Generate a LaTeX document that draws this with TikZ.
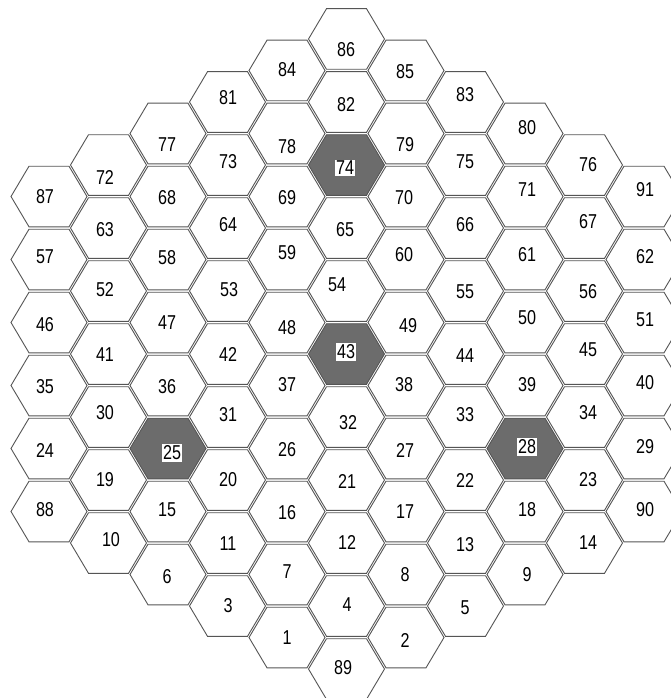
\documentclass[tikz,border=0pt]{standalone}
\usepackage{fontspec}
\usepackage{graphicx}
\setmainfont{Liberation Sans}
\definecolor{hexline}{HTML}{555555}
\definecolor{hexfill}{HTML}{6C6C6C}
\tikzset{
  hexcell/.style={draw=hexline, line width=0.9pt, fill=white},
  hexdark/.style={draw=hexline, line width=0.9pt, fill=hexfill},
  lbl/.style={font=\fontsize{17}{20}\selectfont, inner sep=1pt, text=black},
  lblbox/.style={lbl, fill=white, inner sep=1.5pt},
}
% #1 style of hexagon, #2 label, #3 column, #4 half-row index, #5,#6 label position, #7 label style
\newcommand\hexat[7]{%
  \pgfmathsetmacro\cx{346.5+(#3-6)*59.5}%
  \pgfmathsetmacro\cy{39+#4*31.5}%
  \draw[#1] (\cx-38,\cy) -- (\cx-20,\cy-30.3) -- (\cx+20,\cy-30.3) -- (\cx+38,\cy)
     -- (\cx+20,\cy+30.3) -- (\cx-20,\cy+30.3) -- cycle;
  \node[#7] (n#2) at (#5,#6) {\scalebox{0.95}[1.18]{#2}};
}
\newcommand\hx[5]{\hexat{hexcell}{#1}{#2}{#3}{#4}{#5}{lbl}}
\newcommand\hxd[5]{\hexat{hexdark}{#1}{#2}{#3}{#4}{#5}{lblbox}}
\begin{document}
\begin{tikzpicture}[x=1pt,y=-1pt]
\fill[white] (0,0) rectangle (671,698);
\useasboundingbox (0,0) rectangle (671,698);
% column 1
\hx{87}{1}{5}{45}{197}
\hx{57}{1}{7}{45}{257}
\hx{46}{1}{9}{45}{325}
\hx{35}{1}{11}{45}{387}
\hx{24}{1}{13}{45}{450}
\hx{88}{1}{15}{45}{510}
% column 2
\hx{72}{2}{4}{105}{177}
\hx{63}{2}{6}{105}{230}
\hx{52}{2}{8}{105}{290}
\hx{41}{2}{10}{105}{355}
\hx{30}{2}{12}{105}{413}
\hx{19}{2}{14}{105}{480}
\hx{10}{2}{16}{111}{540}
% column 3
\hx{77}{3}{3}{167}{145}
\hx{68}{3}{5}{167}{198}
\hx{58}{3}{7}{167}{258}
\hx{47}{3}{9}{167}{323}
\hx{36}{3}{11}{167}{387}
\hxd{25}{3}{13}{172}{453}
\hx{15}{3}{15}{167}{510}
\hx{6}{3}{17}{167}{577}
% column 4
\hx{81}{4}{2}{228}{98}
\hx{73}{4}{4}{228}{162}
\hx{64}{4}{6}{228}{225}
\hx{53}{4}{8}{229}{290}
\hx{42}{4}{10}{228}{354}
\hx{31}{4}{12}{228}{415}
\hx{20}{4}{14}{228}{480}
\hx{11}{4}{16}{228}{544}
\hx{3}{4}{18}{228}{606}
% column 5
\hx{84}{5}{1}{287}{70}
\hx{78}{5}{3}{287}{147}
\hx{69}{5}{5}{287}{198}
\hx{59}{5}{7}{287}{253}
\hx{48}{5}{9}{287}{328}
\hx{37}{5}{11}{287}{385}
\hx{26}{5}{13}{287}{450}
\hx{16}{5}{15}{287}{513}
\hx{7}{5}{17}{287}{572}
\hx{1}{5}{19}{287}{638}
% column 6
\hx{86}{6}{0}{346}{50}
\hx{82}{6}{2}{346}{105}
\hxd{74}{6}{4}{345}{168}
\hx{65}{6}{6}{345}{230}
\hx{54}{6}{8}{337}{285}
\hxd{43}{6}{10}{346}{352}
\hx{32}{6}{12}{348}{423}
\hx{21}{6}{14}{347}{481}
\hx{12}{6}{16}{347}{542}
\hx{4}{6}{18}{347}{605}
\hx{89}{6}{20}{343}{668}
% column 7
\hx{85}{7}{1}{405}{72}
\hx{79}{7}{3}{405}{145}
\hx{70}{7}{5}{404}{198}
\hx{60}{7}{7}{404}{255}
\hx{49}{7}{9}{408}{326}
\hx{38}{7}{11}{404}{385}
\hx{27}{7}{13}{405}{450}
\hx{17}{7}{15}{405}{512}
\hx{8}{7}{17}{405}{575}
\hx{2}{7}{19}{405}{640}
% column 8
\hx{83}{8}{2}{465}{95}
\hx{75}{8}{4}{465}{162}
\hx{66}{8}{6}{465}{225}
\hx{55}{8}{8}{465}{292}
\hx{44}{8}{10}{465}{356}
\hx{33}{8}{12}{465}{415}
\hx{22}{8}{14}{465}{480}
\hx{13}{8}{16}{465}{545}
\hx{5}{8}{18}{465}{608}
% column 9
\hx{80}{9}{3}{527}{128}
\hx{71}{9}{5}{527}{190}
\hx{61}{9}{7}{527}{255}
\hx{50}{9}{9}{527}{318}
\hx{39}{9}{11}{527}{385}
\hxd{28}{9}{13}{527}{447}
\hx{18}{9}{15}{527}{510}
\hx{9}{9}{17}{527}{575}
% column 10
\hx{76}{10}{4}{588}{165}
\hx{67}{10}{6}{588}{222}
\hx{56}{10}{8}{588}{292}
\hx{45}{10}{10}{588}{350}
\hx{34}{10}{12}{588}{413}
\hx{23}{10}{14}{588}{480}
\hx{14}{10}{16}{588}{543}
% column 11
\hx{91}{11}{5}{645}{190}
\hx{62}{11}{7}{645}{257}
\hx{51}{11}{9}{645}{320}
\hx{40}{11}{11}{645}{383}
\hx{29}{11}{13}{645}{447}
\hx{90}{11}{15}{645}{510}
\end{tikzpicture}
\end{document}
